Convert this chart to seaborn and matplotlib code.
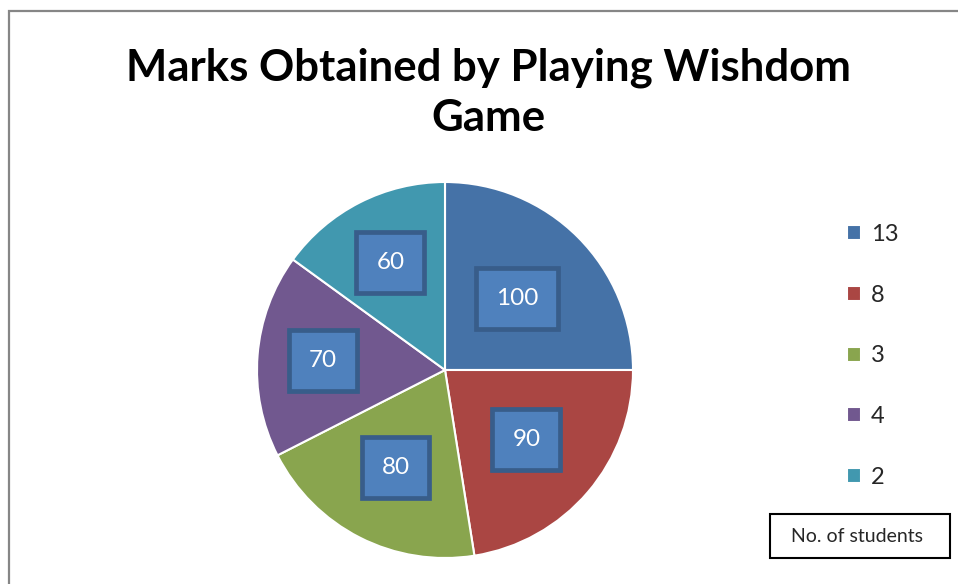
import numpy as np
import matplotlib
matplotlib.use("Agg")
import matplotlib.pyplot as plt
import seaborn as sns
from matplotlib.patches import Rectangle

# ---- data ----
students = ["13", "8", "3", "4", "2"]          # legend categories (No. of students)
marks = [100, 90, 80, 70, 60]                  # slice values / labels
title = "Marks Obtained by Playing Wishdom\nGame"
box_title = "No. of students"

# ---- style ----
sns.set_theme(style="white")
plt.rcParams["font.family"] = ["Lato", "DejaVu Sans"]
colors = sns.color_palette(["#4572A7", "#AA4643", "#89A54E", "#71588F", "#4198AF"])
label_dist = [0.54, 0.57, 0.58, 0.65, 0.64]

W, H = 958, 584
fig = plt.figure(figsize=(W / 100, H / 100), dpi=100)

# outer chart frame (extends beyond right/bottom)
fig.patches.append(Rectangle((9 / W, -0.1), 1.2, 1 - 11 / H + 0.1,
                             transform=fig.transFigure, fill=False,
                             edgecolor="#868686", linewidth=1.6))

cx, cy, r = 445, 370, 188
ax = fig.add_axes([(cx - r) / W, (H - cy - r) / H, 2 * r / W, 2 * r / H])
wedges, _ = ax.pie(marks, colors=colors, startangle=90, counterclock=False,
                   radius=1, wedgeprops=dict(edgecolor="white", linewidth=1.5))
ax.set_xlim(-1, 1)
ax.set_ylim(-1, 1)
ax.axis("off")

for w, v, d in zip(wedges, marks, label_dist):
    ang = np.deg2rad((w.theta1 + w.theta2) / 2)
    ax.text(d * np.cos(ang), d * np.sin(ang), str(v), ha="center", va="center",
            fontsize=17.5, color="white",
            bbox=dict(boxstyle="square,pad=0.82", facecolor="#4F81BD",
                      edgecolor="#385D8A", linewidth=3.4))

fig.text(488 / W, 1 - 93 / H, title, ha="center", va="center",
         fontsize=31.5, fontweight="bold", color="black", linespacing=1.3)

fig.legend(wedges, students, loc="center left",
           bbox_to_anchor=(847 / W, 1 - 356 / H), frameon=False,
           fontsize=17, handlelength=0.6, handleheight=0.6,
           handletextpad=0.42, labelspacing=1.68, borderpad=0, borderaxespad=0)

fig.patches.append(Rectangle((770 / W, 1 - 558 / H), 180 / W, 44 / H,
                             transform=fig.transFigure, facecolor="white",
                             edgecolor="black", linewidth=1.5))
fig.text(857 / W, 1 - 537 / H, box_title, ha="center", va="center", fontsize=14)

fig.savefig("out.png", dpi=100)
